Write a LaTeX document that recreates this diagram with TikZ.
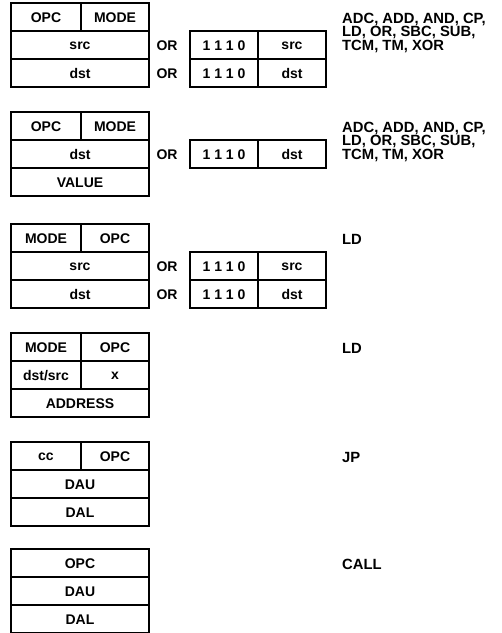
\documentclass[tikz,border=0pt]{standalone}
\usepackage{fontspec}
\setmainfont{Liberation Sans}
\tikzset{
  lbl/.style={font=\bfseries\fontsize{14}{14}\selectfont, inner sep=0pt},
  side/.style={font=\bfseries\fontsize{14.8}{13.6}\selectfont, inner sep=0pt, align=left, anchor=north west},
  outer/.style={line width=2.6pt},
  inner/.style={line width=1.3pt}
}
\begin{document}
\begin{tikzpicture}[x=1pt,y=-1pt]
\useasboundingbox (0,0) rectangle (502,633);
\fill[white] (0,0) rectangle (502,633);

% ---- Block 1 (top 3)
\draw[inner] (11,31) -- (149,31) (11,59) -- (149,59) (81,3) -- (81,31);
\draw[outer] (11,3) rectangle (149,87);
\node[lbl] (b1opc) at (46,17.5) {OPC};
\node[lbl] (b1mode) at (115,17.5) {MODE};
\node[lbl] (b1src) at (80,45.5) {src};
\node[lbl] (b1dst) at (80,73.5) {dst};
\node[lbl] (b1or1) at (167,45.5) {OR};
\node[lbl] (b1or2) at (167,73.5) {OR};
\draw[inner] (190,59) -- (326,59) (258,31) -- (258,87);
\draw[outer] (190,31) rectangle (326,87);
\node[lbl] (b1e1) at (224,45.5) {1 1 1 0};
\node[lbl] (b1s) at (292,45.5) {src};
\node[lbl] (b1e2) at (224,73.5) {1 1 1 0};
\node[lbl] (b1d) at (292,73.5) {dst};
\node[side] (b1ops) at (342,12.5) {ADC, ADD, AND, CP,\\LD, OR, SBC, SUB,\\TCM, TM, XOR};

% ---- Block 2 (top 112)
\draw[inner] (11,140) -- (149,140) (11,168) -- (149,168) (81,112) -- (81,140);
\draw[outer] (11,112) rectangle (149,196);
\node[lbl] (b2opc) at (46,126.5) {OPC};
\node[lbl] (b2mode) at (115,126.5) {MODE};
\node[lbl] (b2dst) at (80,154.5) {dst};
\node[lbl] (b2val) at (80,182.5) {VALUE};
\node[lbl] (b2or) at (167,154.5) {OR};
\draw[inner] (258,140) -- (258,168);
\draw[outer] (190,140) rectangle (326,168);
\node[lbl] (b2e) at (224,154.5) {1 1 1 0};
\node[lbl] (b2d) at (292,154.5) {dst};
\node[side] (b2ops) at (342,121.5) {ADC, ADD, AND, CP,\\LD, OR, SBC, SUB,\\TCM, TM, XOR};

% ---- Block 3 (top 224)
\draw[inner] (11,252) -- (149,252) (11,280) -- (149,280) (81,224) -- (81,252);
\draw[outer] (11,224) rectangle (149,308);
\node[lbl] (b3mode) at (46,238.5) {MODE};
\node[lbl] (b3opc) at (115,238.5) {OPC};
\node[lbl] (b3src) at (80,266.5) {src};
\node[lbl] (b3dst) at (80,294.5) {dst};
\node[lbl] (b3or1) at (167,266.5) {OR};
\node[lbl] (b3or2) at (167,294.5) {OR};
\draw[inner] (190,280) -- (326,280) (258,252) -- (258,308);
\draw[outer] (190,252) rectangle (326,308);
\node[lbl] (b3e1) at (224,266.5) {1 1 1 0};
\node[lbl] (b3s) at (292,266.5) {src};
\node[lbl] (b3e2) at (224,294.5) {1 1 1 0};
\node[lbl] (b3d) at (292,294.5) {dst};
\node[side] (b3ops) at (342,234) {LD};

% ---- Block 4 (top 333)
\draw[inner] (11,361) -- (149,361) (11,389) -- (149,389) (81,333) -- (81,389);
\draw[outer] (11,333) rectangle (149,417);
\node[lbl] (b4mode) at (46,347.5) {MODE};
\node[lbl] (b4opc) at (115,347.5) {OPC};
\node[lbl] (b4ds) at (46,375.5) {dst/src};
\node[lbl] (b4x) at (115,375.5) {x};
\node[lbl] (b4addr) at (80,403.5) {ADDRESS};
\node[side] (b4ops) at (342,343) {LD};

% ---- Block 5 (top 442)
\draw[inner] (11,470) -- (149,470) (11,498) -- (149,498) (81,442) -- (81,470);
\draw[outer] (11,442) rectangle (149,526);
\node[lbl] (b5cc) at (46,456.5) {cc};
\node[lbl] (b5opc) at (115,456.5) {OPC};
\node[lbl] (b5dau) at (80,484.5) {DAU};
\node[lbl] (b5dal) at (80,512.5) {DAL};
\node[side] (b5ops) at (342,452) {JP};

% ---- Block 6 (top 549)
\draw[inner] (11,577) -- (149,577) (11,605) -- (149,605);
\draw[outer] (11,549) rectangle (149,633);
\node[lbl] (b6opc) at (80,563.5) {OPC};
\node[lbl] (b6dau) at (80,591.5) {DAU};
\node[lbl] (b6dal) at (80,619.5) {DAL};
\node[side] (b6ops) at (342,559) {CALL};
\end{tikzpicture}
\end{document}
